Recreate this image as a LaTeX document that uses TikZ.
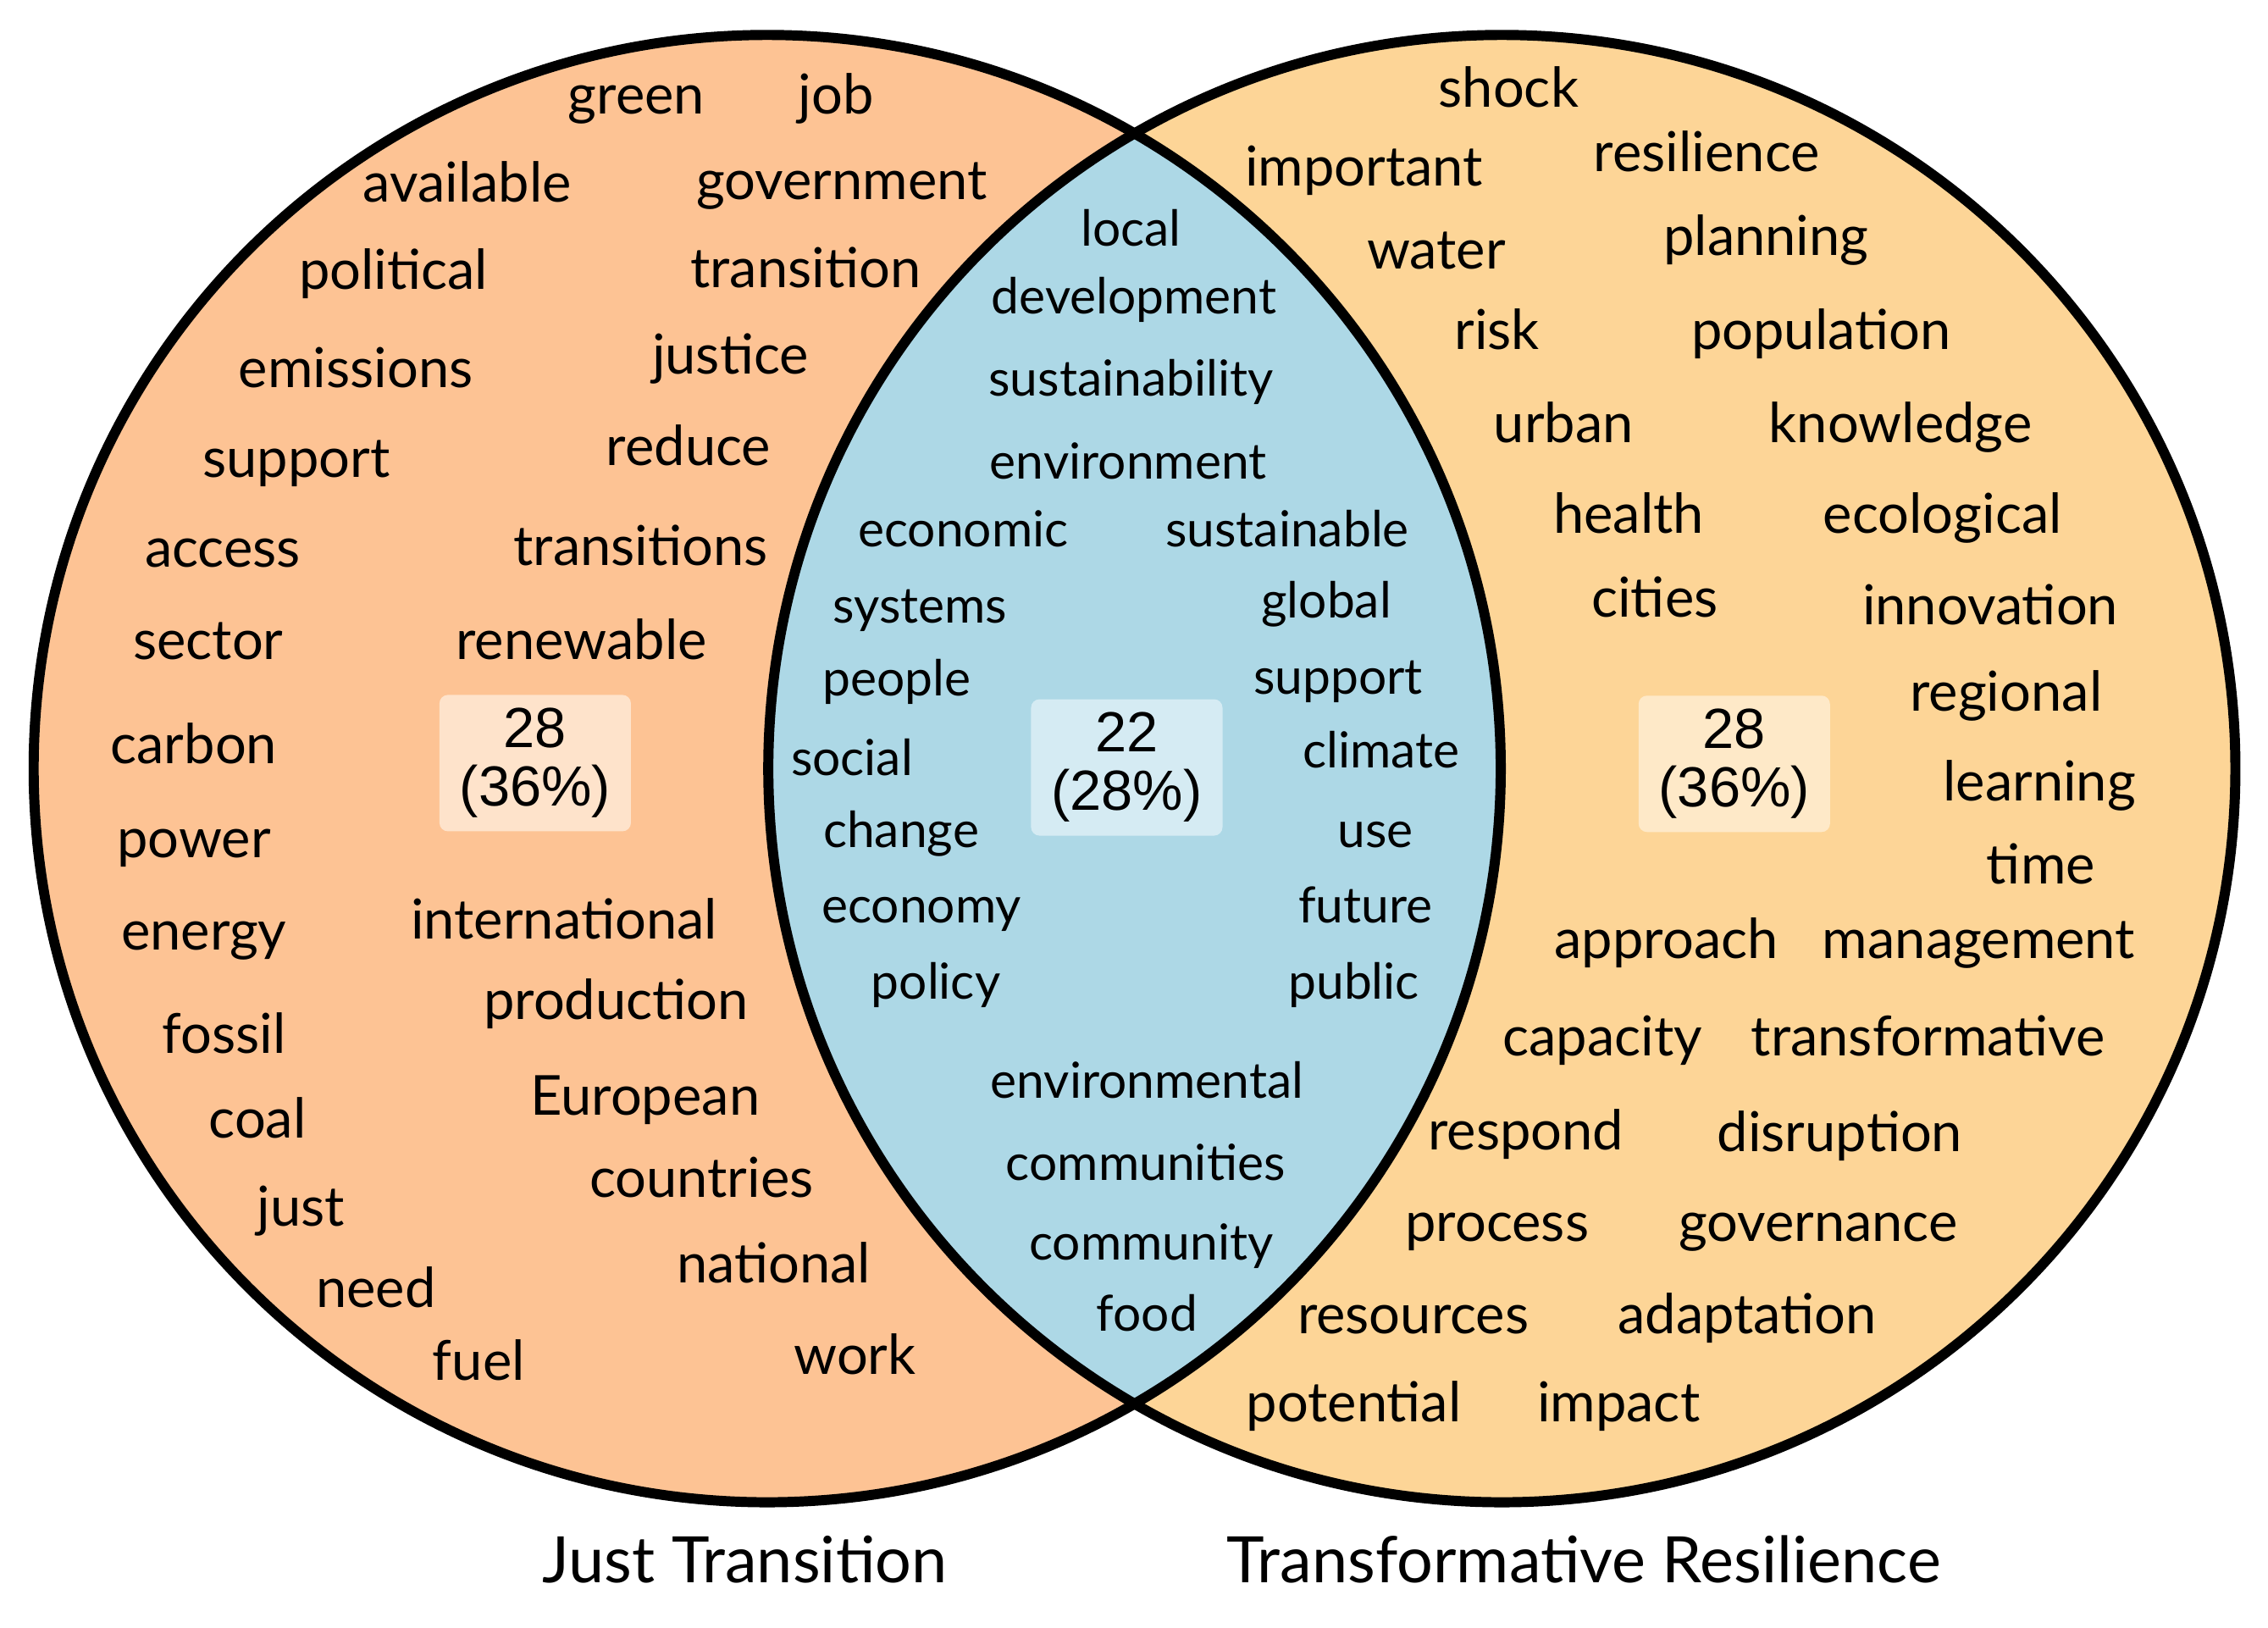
\documentclass[tikz,border=0pt]{standalone}
\usepackage{fontspec}
\setmainfont{Lato}
\newfontfamily\boxfont{Liberation Sans}
\definecolor{jtfill}{HTML}{FDC394}
\definecolor{trfill}{HTML}{FDD597}
\definecolor{lensfill}{HTML}{ADD8E6}
\definecolor{jtbox}{HTML}{FEE3CB}
\definecolor{lensbox}{HTML}{D5EBF3}
\definecolor{trbox}{HTML}{FEE9C8}
\tikzset{
  wd/.style={font=\fontsize{18.5}{22}\selectfont, inner sep=0pt, anchor=center, text height=13.5pt, text depth=3.7pt, yshift=-1.8pt},
  lw/.style={font=\fontsize{16.7}{20}\selectfont, inner sep=0pt, anchor=center, text height=12.2pt, text depth=3.3pt, yshift=-1.8pt},
  cbox/.style={fill=#1, rounded corners=0.1cm, minimum width=2.26cm, minimum height=1.61cm, inner sep=0pt, align=center, font=\boxfont\fontsize{19}{19.6}\selectfont},
  ttl/.style={font=\fontsize{21.5}{24}\selectfont, inner sep=0pt, anchor=base},
  ring/.style={draw=black, line width=3.4pt}
}
\begin{document}
\begin{tikzpicture}[x=0.017079cm, y=-0.017079cm]
\useasboundingbox (0,0) rectangle (1568,1125);
\coordinate (c1) at (530.4,531.3);
\coordinate (c2) at (1038.3,531.3);
\fill[jtfill] (c1) circle (8.659cm);
\fill[trfill] (c2) circle (8.659cm);
\begin{scope}
  \clip (c1) circle (8.659cm);
  \fill[lensfill] (c2) circle (8.659cm);
\end{scope}
\draw[ring] (c1) circle (8.659cm);
\draw[ring] (c2) circle (8.659cm);

% Just Transition only
\node[wd] (a1) at (440,65) {green};
\node[wd] (a2) at (578,65) {job};
\node[wd] (a3) at (323,126) {available};
\node[wd] (a4) at (582,124) {government};
\node[wd] (a5) at (272,186) {political};
\node[wd] (a6) at (557,185) {transition};
\node[wd] (a7) at (246,254) {emissions};
\node[wd] (a8) at (505,245) {justice};
\node[wd] (a9) at (205,316) {support};
\node[wd] (a10) at (476,308) {reduce};
\node[wd] (a11) at (154,378) {access};
\node[wd] (a12) at (443,377) {transitions};
\node[wd] (a13) at (144,442) {sector};
\node[wd] (a14) at (402,442) {renewable};
\node[wd] (a15) at (134,514) {carbon};
\node[wd] (a16) at (134,579) {power};
\node[wd] (a17) at (141,643) {energy};
\node[wd] (a18) at (390,635) {international};
\node[wd] (a19) at (426,691) {production};
\node[wd] (a20) at (155,714) {fossil};
\node[wd] (a21) at (178,773) {coal};
\node[wd] (a22) at (446,757) {European};
\node[wd] (a23) at (485,814) {countries};
\node[wd] (a24) at (208,834) {just};
\node[wd] (a25) at (260,890) {need};
\node[wd] (a26) at (535,873) {national};
\node[wd] (a27) at (331,940) {fuel};
\node[wd] (a28) at (591,936) {work};
\node[cbox=jtbox] (n1) at (370,527.5) {28\\(36\%)};

% shared
\node[lw] (b1) at (782,157) {local};
\node[lw] (b2) at (784,204) {development};
\node[lw] (b3) at (782,261) {sustainability};
\node[lw] (b4) at (780,318) {environment};
\node[lw] (b5) at (666,365) {economic};
\node[lw] (b6) at (890,365) {sustainable};
\node[lw] (b7) at (636,418) {systems};
\node[lw] (b8) at (917,414) {global};
\node[lw] (b9) at (620,468) {people};
\node[lw] (b10) at (925,467) {support};
\node[lw] (b11) at (589,523) {social};
\node[lw] (b12) at (955,518) {climate};
\node[lw] (b13) at (623,573) {change};
\node[lw] (b14) at (951,573) {use};
\node[lw] (b15) at (637,625) {economy};
\node[lw] (b16) at (944,625) {future};
\node[lw] (b17) at (647,678) {policy};
\node[lw] (b18) at (936,678) {public};
\node[lw] (b19) at (793,746) {environmental};
\node[lw] (b20) at (792,803) {communities};
\node[lw] (b21) at (796,858) {community};
\node[lw] (b22) at (793,907) {food};
\node[cbox=lensbox] (n2) at (779,530.5) {22\\(28\%)};

% Transformative Resilience only
\node[wd] (c1w) at (1043,60) {shock};
\node[wd] (c2w) at (943,115) {important};
\node[wd] (c3w) at (1180,105) {resilience};
\node[wd] (c4w) at (993,172) {water};
\node[wd] (c5w) at (1221,163) {planning};
\node[wd] (c6w) at (1035,228) {risk};
\node[wd] (c7w) at (1259,228) {population};
\node[wd] (c8w) at (1081,292) {urban};
\node[wd] (c9w) at (1314,292) {knowledge};
\node[wd] (c10w) at (1126,355) {health};
\node[wd] (c11w) at (1343,355) {ecological};
\node[wd] (c12w) at (1144,413) {cities};
\node[wd] (c13w) at (1376,418) {innovation};
\node[wd] (c14w) at (1387,478) {regional};
\node[wd] (c15w) at (1410,540) {learning};
\node[wd] (c16w) at (1411,597) {time};
\node[wd] (c17w) at (1152,649) {approach};
\node[wd] (c18w) at (1368,649) {management};
\node[wd] (c19w) at (1108,716) {capacity};
\node[wd] (c20w) at (1333,716) {transformative};
\node[wd] (c21w) at (1055,781) {respond};
\node[wd] (c22w) at (1272,782) {disruption};
\node[wd] (c23w) at (1035,844) {process};
\node[wd] (c24w) at (1257,844) {governance};
\node[wd] (c25w) at (977,908) {resources};
\node[wd] (c26w) at (1208,908) {adaptation};
\node[wd] (c27w) at (936,969) {potential};
\node[wd] (c28w) at (1119,969) {impact};
\node[cbox=trbox] (n3) at (1199,528) {28\\(36\%)};

% set titles
\node[ttl] (t1) at (515,1094) {Just Transition};
\node[ttl] (t2) at (1095,1094) {Transformative Resilience};
\end{tikzpicture}
\end{document}
